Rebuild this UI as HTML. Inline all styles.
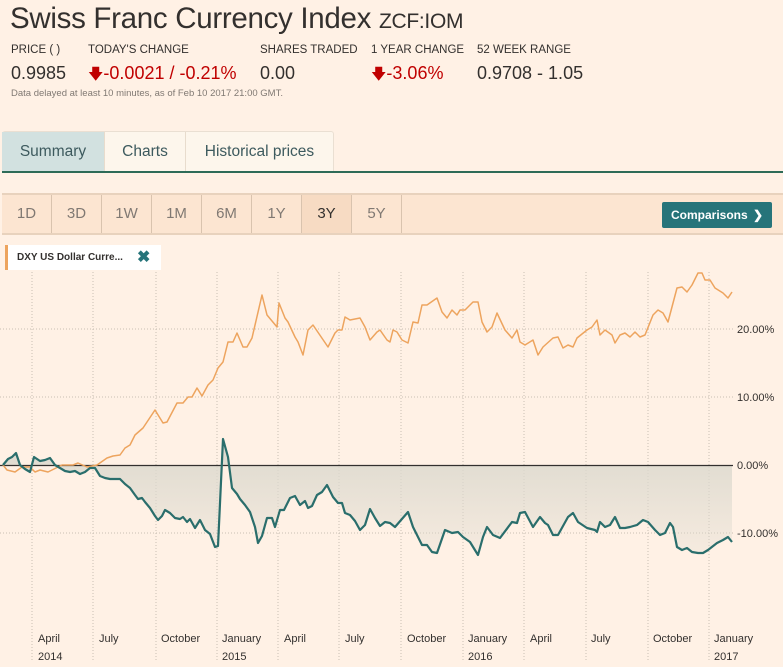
<!DOCTYPE html>
<html><head><meta charset="utf-8"><style>
*{margin:0;padding:0;box-sizing:border-box}
body{width:783px;height:667px;background:#fff1e5;font-family:"Liberation Sans",sans-serif;position:relative;overflow:hidden;color:#33302e}
.a{position:absolute;white-space:nowrap}
.lab{font-size:11.5px;color:#33302e}
.val{font-size:18px;color:#33302e}
.red{color:#c00000}
.tab{position:absolute;top:132px;height:40px;font-size:15.5px;color:#3d5a5e;text-align:center;line-height:40px;border-right:1px solid #e8dccd}
.pb{position:absolute;top:195px;height:38px;width:50px;text-align:center;line-height:38px;font-size:15px;color:#807973;border-right:1px solid #d9c3ae}
</style></head><body>
<div class="a" style="left:10px;top:2px;font-size:29.5px;color:#33302e;letter-spacing:-0.3px">Swiss Franc Currency Index <span style="font-size:21px">ZCF:IOM</span></div>
<div class="a lab" style="left:11px;top:44px">PRICE ( )</div>
<div class="a lab" style="left:88px;top:44px">TODAY'S CHANGE</div>
<div class="a lab" style="left:260px;top:44px">SHARES TRADED</div>
<div class="a lab" style="left:371px;top:44px">1 YEAR CHANGE</div>
<div class="a lab" style="left:477px;top:44px">52 WEEK RANGE</div>
<div class="a val" style="left:11px;top:63px">0.9985</div>
<div class="a val red" style="left:88px;top:63px"><span style="font-size:15px">&#x1F847;</span>-0.0021 / -0.21%</div>
<div class="a val" style="left:260px;top:63px">0.00</div>
<div class="a val red" style="left:371px;top:63px"><span style="font-size:15px">&#x1F847;</span>-3.06%</div>
<div class="a val" style="left:477px;top:63px">0.9708 - 1.05</div>
<div class="a" style="left:11px;top:88px;font-size:9.5px;color:#807973">Data delayed at least 10 minutes, as of Feb 10 2017 21:00 GMT.</div>

<div style="position:absolute;left:2px;top:131px;width:332px;height:41px;background:#fdf6ec;border:1px solid #eadfd2;border-radius:3px 3px 0 0"></div>
<div class="tab" style="left:2px;width:103px;background:#d2e1e0">Summary</div>
<div class="tab" style="left:105px;width:81px">Charts</div>
<div class="tab" style="left:186px;width:147px;border-right:none">Historical prices</div>
<div style="position:absolute;left:2px;top:171px;width:781px;height:2px;background:#2e6b57"></div>

<div style="position:absolute;left:2px;top:193px;width:781px;height:42px;background:#fce5d1;border-top:2px solid #e8d2bd;border-bottom:2px solid #e8d2bd"></div>
<div class="pb" style="left:2px">1D</div>
<div class="pb" style="left:52px">3D</div>
<div class="pb" style="left:102px">1W</div>
<div class="pb" style="left:152px">1M</div>
<div class="pb" style="left:202px">6M</div>
<div class="pb" style="left:252px">1Y</div>
<div class="pb" style="left:302px;background:#f7dbc3;color:#33302e">3Y</div>
<div class="pb" style="left:352px">5Y</div>
<div style="position:absolute;left:662px;top:202px;width:110px;height:26px;background:#26747a;border-radius:2px;color:#fff;font-size:12px;font-weight:bold;line-height:26px;padding-left:9px">Comparisons <span style="position:absolute;right:9px">&#x276F;</span></div>

<svg style="position:absolute;left:0;top:0" width="783" height="667">
<defs><linearGradient id="g" x1="0" y1="0" x2="0" y2="1"><stop offset="0" stop-color="#dcd9ce"/><stop offset="1" stop-color="#dcd9ce" stop-opacity="0.25"/></linearGradient></defs>
<g stroke="#c9bfb4" stroke-width="1" stroke-dasharray="1,2" fill="none">
<path d="M32 272V660M93 272V660M156 272V660M217 272V660M278 272V660M339 272V660M401 272V660M463 272V660M524 272V660M586 272V660M648 272V660M709 272V660"/>
<path d="M0 329H733M0 397H733M0 533H733"/>
</g>
<path fill="url(#g)" d="M3 465 L8 459 L12 457 L16 453 L20 465 L25 469 L30 472 L34 457 L40 461 L45 460 L50 458 L55 465 L60 468 L65 471 L70 472 L75 471 L80 474 L85 472 L90 468 L95 468 L100 476 L105 478 L110 479 L120 479 L125 484 L130 488 L135 495 L138 499 L142 498 L145 502 L150 508 L155 516 L158 520 L162 516 L165 510 L170 513 L175 518 L180 519 L183 517 L187 522 L190 519 L195 528 L200 520 L205 530 L210 534 L215 547 L218 546 L223 439 L228 457 L232 488 L237 494 L240 499 L245 505 L250 512 L255 527 L258 543 L262 536 L267 518 L272 518 L275 527 L280 510 L284 510 L290 498 L295 496 L300 505 L305 501 L308 508 L312 506 L317 495 L322 492 L327 485 L333 497 L338 503 L342 503 L345 513 L350 515 L355 521 L360 530 L365 525 L370 509 L375 518 L380 526 L385 522 L390 523 L395 527 L408 512 L413 527 L422 545 L427 545 L432 552 L437 553 L445 530 L452 533 L458 532 L463 537 L470 542 L478 555 L483 537 L487 527 L493 535 L500 538 L512 522 L517 523 L520 513 L525 512 L533 527 L540 517 L545 523 L548 525 L553 535 L558 535 L568 517 L573 513 L578 522 L587 528 L595 530 L597 532 L600 522 L605 527 L610 525 L615 517 L620 528 L625 528 L630 527 L637 525 L643 520 L648 522 L655 530 L660 535 L665 533 L670 523 L673 527 L677 547 L682 550 L687 548 L692 552 L698 553 L703 553 L708 550 L717 543 L723 540 L728 537 L732 542 L732 465 Z"/>
<path stroke="#33302e" stroke-width="1.2" d="M0 465.5H733"/>
<polyline fill="none" stroke="#eda45e" stroke-width="1.5" stroke-linejoin="round" points="3,465 7,470 15,472 22,467 30,467 35,472 40,470 48,472 62,465 73,465 78,463 87,467 97,465 107,458 113,456 120,455 125,448 130,445 135,435 143,428 155,410 163,423 167,422 177,403 183,403 188,397 192,397 197,388 202,396 208,385 213,380 218,368 223,362 228,342 233,342 237,333 243,347 247,347 252,338 262,295 267,315 277,327 279,303 285,318 288,322 295,337 298,342 303,355 308,330 313,325 328,347 335,333 338,330 342,330 345,317 350,320 360,318 365,327 370,340 377,332 380,330 387,340 390,342 393,330 397,332 402,340 408,343 413,322 418,323 422,305 427,305 437,298 442,312 447,318 452,310 457,315 460,310 465,310 473,302 478,302 482,322 487,332 492,327 497,313 505,330 512,338 517,330 520,342 525,345 533,340 538,355 543,347 553,338 558,337 563,348 568,345 573,347 577,338 587,330 592,327 597,320 600,335 605,330 612,335 615,343 620,335 625,333 630,337 635,332 640,337 645,335 653,315 658,310 663,313 668,322 677,288 682,287 687,292 692,285 698,273 702,273 705,280 710,280 715,288 723,293 728,298 732,292"/>
<polyline fill="none" stroke="#2a6e6c" stroke-width="2.2" stroke-linejoin="round" points="3,465 8,459 12,457 16,453 20,465 25,469 30,472 34,457 40,461 45,460 50,458 55,465 60,468 65,471 70,472 75,471 80,474 85,472 90,468 95,468 100,476 105,478 110,479 120,479 125,484 130,488 135,495 138,499 142,498 145,502 150,508 155,516 158,520 162,516 165,510 170,513 175,518 180,519 183,517 187,522 190,519 195,528 200,520 205,530 210,534 215,547 218,546 223,439 228,457 232,488 237,494 240,499 245,505 250,512 255,527 258,543 262,536 267,518 272,518 275,527 280,510 284,510 290,498 295,496 300,505 305,501 308,508 312,506 317,495 322,492 327,485 333,497 338,503 342,503 345,513 350,515 355,521 360,530 365,525 370,509 375,518 380,526 385,522 390,523 395,527 408,512 413,527 422,545 427,545 432,552 437,553 445,530 452,533 458,532 463,537 470,542 478,555 483,537 487,527 493,535 500,538 512,522 517,523 520,513 525,512 533,527 540,517 545,523 548,525 553,535 558,535 568,517 573,513 578,522 587,528 595,530 597,532 600,522 605,527 610,525 615,517 620,528 625,528 630,527 637,525 643,520 648,522 655,530 660,535 665,533 670,523 673,527 677,547 682,550 687,548 692,552 698,553 703,553 708,550 717,543 723,540 728,537 732,542"/>
<g font-family="Liberation Sans, sans-serif" font-size="11" fill="#33302e">
<text x="737" y="333">20.00%</text><text x="737" y="401">10.00%</text><text x="737" y="469">0.00%</text><text x="737" y="537">-10.00%</text>
</g>
<g font-family="Liberation Sans, sans-serif" font-size="11" fill="#33302e">
<text x="38" y="642">April</text><text x="38" y="660">2014</text>
<text x="99" y="642">July</text>
<text x="161" y="642">October</text>
<text x="222" y="642">January</text><text x="222" y="660">2015</text>
<text x="284" y="642">April</text>
<text x="345" y="642">July</text>
<text x="407" y="642">October</text>
<text x="468" y="642">January</text><text x="468" y="660">2016</text>
<text x="530" y="642">April</text>
<text x="591" y="642">July</text>
<text x="653" y="642">October</text>
<text x="714" y="642">January</text><text x="714" y="660">2017</text>
</g>
</svg>
<div style="position:absolute;left:5px;top:245px;width:156px;height:25px;background:#fff;border-left:3px solid #eda45e"></div>
<div class="a" style="left:17px;top:252px;font-size:10px;font-weight:bold;color:#33302e">DXY US Dollar Curre...</div>
<div class="a" style="left:137px;top:247px;font-size:16px;font-weight:bold;color:#26747a">&#x2716;</div>
</body></html>
